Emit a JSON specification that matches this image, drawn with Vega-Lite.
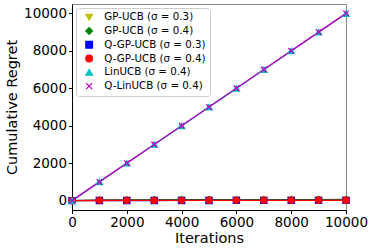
{
  "$schema": "https://vega.github.io/schema/vega-lite/v6.json",
  "width": 274,
  "height": 206,
  "autosize": "none",
  "padding": {"left": 72, "top": 4, "right": 28, "bottom": 38},
  "config": {
    "font": "DejaVu Sans",
    "view": {"stroke": "#888888", "strokeWidth": 1},
    "axis": {
      "grid": false,
      "domainColor": "#000000",
      "tickColor": "#000000",
      "labelColor": "#000000",
      "titleColor": "#000000",
      "labelFont": "DejaVu Sans",
      "titleFont": "DejaVu Sans",
      "labelFontSize": 13.5,
      "titleFontSize": 14.5,
      "titleFontWeight": "normal",
      "tickSize": 3.5,
      "labelPadding": 2,
      "labelFlush": false,
      "labelOverlap": false
    }
  },
  "data": {
    "values": [
      {"series": "GP-UCB (σ = 0.3)", "x": 0, "y": 0},
      {"series": "GP-UCB (σ = 0.3)", "x": 1000, "y": 25},
      {"series": "GP-UCB (σ = 0.3)", "x": 2000, "y": 32},
      {"series": "GP-UCB (σ = 0.3)", "x": 3000, "y": 36},
      {"series": "GP-UCB (σ = 0.3)", "x": 4000, "y": 39},
      {"series": "GP-UCB (σ = 0.3)", "x": 5000, "y": 41},
      {"series": "GP-UCB (σ = 0.3)", "x": 6000, "y": 43},
      {"series": "GP-UCB (σ = 0.3)", "x": 7000, "y": 45},
      {"series": "GP-UCB (σ = 0.3)", "x": 8000, "y": 46},
      {"series": "GP-UCB (σ = 0.3)", "x": 9000, "y": 47},
      {"series": "GP-UCB (σ = 0.3)", "x": 10000, "y": 48},
      {"series": "GP-UCB (σ = 0.4)", "x": 0, "y": 0},
      {"series": "GP-UCB (σ = 0.4)", "x": 1000, "y": 30},
      {"series": "GP-UCB (σ = 0.4)", "x": 2000, "y": 38},
      {"series": "GP-UCB (σ = 0.4)", "x": 3000, "y": 43},
      {"series": "GP-UCB (σ = 0.4)", "x": 4000, "y": 46},
      {"series": "GP-UCB (σ = 0.4)", "x": 5000, "y": 49},
      {"series": "GP-UCB (σ = 0.4)", "x": 6000, "y": 51},
      {"series": "GP-UCB (σ = 0.4)", "x": 7000, "y": 53},
      {"series": "GP-UCB (σ = 0.4)", "x": 8000, "y": 55},
      {"series": "GP-UCB (σ = 0.4)", "x": 9000, "y": 56},
      {"series": "GP-UCB (σ = 0.4)", "x": 10000, "y": 58},
      {"series": "Q-GP-UCB (σ = 0.3)", "x": 0, "y": 0},
      {"series": "Q-GP-UCB (σ = 0.3)", "x": 1000, "y": 8},
      {"series": "Q-GP-UCB (σ = 0.3)", "x": 2000, "y": 10},
      {"series": "Q-GP-UCB (σ = 0.3)", "x": 3000, "y": 11},
      {"series": "Q-GP-UCB (σ = 0.3)", "x": 4000, "y": 12},
      {"series": "Q-GP-UCB (σ = 0.3)", "x": 5000, "y": 12},
      {"series": "Q-GP-UCB (σ = 0.3)", "x": 6000, "y": 13},
      {"series": "Q-GP-UCB (σ = 0.3)", "x": 7000, "y": 13},
      {"series": "Q-GP-UCB (σ = 0.3)", "x": 8000, "y": 13},
      {"series": "Q-GP-UCB (σ = 0.3)", "x": 9000, "y": 14},
      {"series": "Q-GP-UCB (σ = 0.3)", "x": 10000, "y": 14},
      {"series": "Q-GP-UCB (σ = 0.4)", "x": 0, "y": 0},
      {"series": "Q-GP-UCB (σ = 0.4)", "x": 1000, "y": 10},
      {"series": "Q-GP-UCB (σ = 0.4)", "x": 2000, "y": 12},
      {"series": "Q-GP-UCB (σ = 0.4)", "x": 3000, "y": 13},
      {"series": "Q-GP-UCB (σ = 0.4)", "x": 4000, "y": 14},
      {"series": "Q-GP-UCB (σ = 0.4)", "x": 5000, "y": 15},
      {"series": "Q-GP-UCB (σ = 0.4)", "x": 6000, "y": 15},
      {"series": "Q-GP-UCB (σ = 0.4)", "x": 7000, "y": 16},
      {"series": "Q-GP-UCB (σ = 0.4)", "x": 8000, "y": 16},
      {"series": "Q-GP-UCB (σ = 0.4)", "x": 9000, "y": 16},
      {"series": "Q-GP-UCB (σ = 0.4)", "x": 10000, "y": 17},
      {"series": "LinUCB (σ = 0.4)", "x": 0, "y": 0},
      {"series": "LinUCB (σ = 0.4)", "x": 1000, "y": 998},
      {"series": "LinUCB (σ = 0.4)", "x": 2000, "y": 1997},
      {"series": "LinUCB (σ = 0.4)", "x": 3000, "y": 2996},
      {"series": "LinUCB (σ = 0.4)", "x": 4000, "y": 3995},
      {"series": "LinUCB (σ = 0.4)", "x": 5000, "y": 4994},
      {"series": "LinUCB (σ = 0.4)", "x": 6000, "y": 5993},
      {"series": "LinUCB (σ = 0.4)", "x": 7000, "y": 6992},
      {"series": "LinUCB (σ = 0.4)", "x": 8000, "y": 7991},
      {"series": "LinUCB (σ = 0.4)", "x": 9000, "y": 8990},
      {"series": "LinUCB (σ = 0.4)", "x": 10000, "y": 9989},
      {"series": "Q-LinUCB (σ = 0.4)", "x": 0, "y": 0},
      {"series": "Q-LinUCB (σ = 0.4)", "x": 1000, "y": 1000},
      {"series": "Q-LinUCB (σ = 0.4)", "x": 2000, "y": 2000},
      {"series": "Q-LinUCB (σ = 0.4)", "x": 3000, "y": 3000},
      {"series": "Q-LinUCB (σ = 0.4)", "x": 4000, "y": 4000},
      {"series": "Q-LinUCB (σ = 0.4)", "x": 5000, "y": 5000},
      {"series": "Q-LinUCB (σ = 0.4)", "x": 6000, "y": 6000},
      {"series": "Q-LinUCB (σ = 0.4)", "x": 7000, "y": 7000},
      {"series": "Q-LinUCB (σ = 0.4)", "x": 8000, "y": 8000},
      {"series": "Q-LinUCB (σ = 0.4)", "x": 9000, "y": 9000},
      {"series": "Q-LinUCB (σ = 0.4)", "x": 10000, "y": 10000}
    ]
  },
  "encoding": {
    "x": {
      "field": "x", "type": "quantitative", "title": "Iterations",
      "scale": {"domain": [0, 10000], "nice": false, "zero": false},
      "axis": {"values": [0, 2000, 4000, 6000, 8000, 10000], "format": "d", "titlePadding": 2}
    },
    "y": {
      "field": "y", "type": "quantitative", "title": "Cumulative Regret",
      "scale": {"domain": [-500, 10500], "nice": false, "zero": false},
      "axis": {"values": [0, 2000, 4000, 6000, 8000, 10000], "format": "d", "titlePadding": 4}
    },
    "color": {
      "field": "series", "type": "nominal", "title": null,
      "scale": {
        "domain": ["GP-UCB (σ = 0.3)", "GP-UCB (σ = 0.4)", "Q-GP-UCB (σ = 0.3)", "Q-GP-UCB (σ = 0.4)", "LinUCB (σ = 0.4)", "Q-LinUCB (σ = 0.4)"],
        "range": ["#bfbf00", "#008000", "#0000ff", "#ff0000", "#00bfbf", "#bf00bf"]
      },
      "legend": {
        "orient": "top-left",
        "offset": 4,
        "labelFontSize": 10.3,
        "labelColor": "#000000",
        "fillColor": "#ffffff",
        "strokeColor": "#cccccc",
        "cornerRadius": 3,
        "padding": 4,
        "rowPadding": 1.8,
        "symbolSize": 45,
        "symbolStrokeWidth": 1.2,
        "symbolOffset": 4,
        "labelOffset": 10
      }
    }
  },
  "layer": [
    {
      "mark": {"type": "line", "strokeWidth": 1.4},
      "encoding": {"order": {"field": "x", "type": "quantitative"}}
    },
    {
      "mark": {"type": "point", "filled": true, "size": 38, "opacity": 1, "strokeWidth": 1.3},
      "encoding": {
        "stroke": {"field": "series", "type": "nominal", "title": null,
          "scale": {
            "domain": ["GP-UCB (σ = 0.3)", "GP-UCB (σ = 0.4)", "Q-GP-UCB (σ = 0.3)", "Q-GP-UCB (σ = 0.4)", "LinUCB (σ = 0.4)", "Q-LinUCB (σ = 0.4)"],
            "range": ["#bfbf00", "#008000", "#0000ff", "#ff0000", "#00bfbf", "#bf00bf"]
          }},
        "shape": {
          "field": "series", "type": "nominal", "title": null,
          "scale": {
            "domain": ["GP-UCB (σ = 0.3)", "GP-UCB (σ = 0.4)", "Q-GP-UCB (σ = 0.3)", "Q-GP-UCB (σ = 0.4)", "LinUCB (σ = 0.4)", "Q-LinUCB (σ = 0.4)"],
            "range": ["triangle-down", "diamond", "square", "circle", "triangle-up", "M-0.9,-0.9L0.9,0.9M-0.9,0.9L0.9,-0.9"]
          }
        }
      }
    }
  ]
}
